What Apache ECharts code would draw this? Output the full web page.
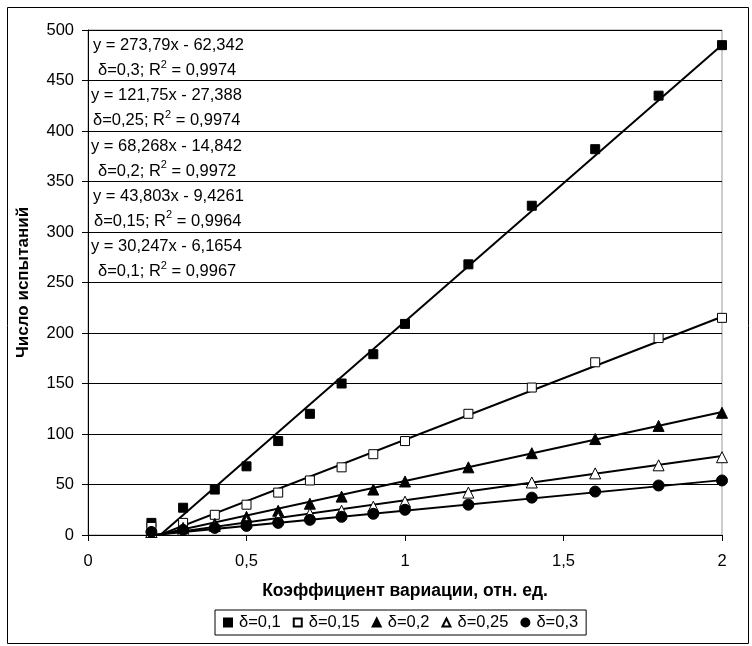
<!DOCTYPE html>
<html><head><meta charset="utf-8">
<script src="https://cdn.jsdelivr.net/npm/echarts@6/dist/echarts.min.js"></script>
<style>html,body{margin:0;padding:0;background:#fff}#c{width:752px;height:646px}</style>
</head><body><div id="c"></div>
<script>
const xValues = [0.2,0.3,0.4,0.5,0.6,0.7,0.8,0.9,1.0,1.2,1.4,1.6,1.8,2.0];
const seriesNames = ['δ=0,1','δ=0,15','δ=0,2','δ=0,25','δ=0,3'];
const d01  = [12,27,45,68,93,120,150,179,209,268,326,382,435,485];
const d015 = [8,12,20,30,42,54,67,80,93,120,146,171,195,215];
const d02  = [3,7,11,18,24,31,38,45,53,67,81,95,108,121];
const d025 = [3,5,9,13,17,21,24,28,33,42,52,61,69,77];
const d03  = [3,5,7,9,12,15,18,21,25,30,37,43,49,54];
const trendSlopes = [273.79,121.75,68.268,43.803,30.247];
const trendIntercepts = [-62.342,-27.388,-14.842,-9.4261,-6.1654];
const eqLines = ['y = 273,79x - 62,342','y = 121,75x - 27,388','y = 68,268x - 14,842','y = 43,803x - 9,4261','y = 30,247x - 6,1654'];
const r2Prefix = ['δ=0,3; R','δ=0,25; R','δ=0,2; R','δ=0,15; R','δ=0,1; R'];
const r2Values = ['0,9974','0,9974','0,9972','0,9964','0,9967'];
const yTicks = [0,50,100,150,200,250,300,350,400,450,500];
const xTicks = [0,0.5,1,1.5,2];

const allData = [d01,d015,d02,d025,d03];
const symbols = ['rect','rect','triangle','triangle','circle'];
const sizes = [9,9,11,11,11];
const fills = ['#000','#fff','#000','#fff','#000'];
const FONT = 'Liberation Sans, Arial, sans-serif';
const FS = 16.5;

const chart = echarts.init(document.getElementById('c'));
const series = [];
allData.forEach((arr,i)=>{
  series.push({
    name: seriesNames[i], type:'scatter', symbol:symbols[i], symbolSize:sizes[i],
    data: xValues.map((x,j)=>[x,arr[j]]),
    itemStyle:{color:fills[i], borderColor:'#000', borderWidth:1, opacity:1},
    z:3
  });
});
trendSlopes.forEach((a,i)=>{
  const b = trendIntercepts[i];
  const x0 = xValues[0], x1 = xValues[xValues.length-1];
  series.push({
    type:'line', name:'trend'+i, data:[[x0,a*x0+b],[x1,a*x1+b]],
    symbol:'none', lineStyle:{color:'#000', width:2}, clip:true, silent:true, z:2
  });
});

const graphic = [{
  type:'rect', left:5, top:5, shape:{width:741, height:636},
  style:{fill:'none', stroke:'#000', lineWidth:1}, z:-1, silent:true
}];
const eqLeft = [93,91,91,93,91];
const r2Left = [98,93,98,94,98];
eqLines.forEach((t,i)=>{
  graphic.push({type:'text', left:eqLeft[i], top:37+i*50.3,
    style:{text:t, font:FS+'px '+FONT, fill:'#000'}});
  graphic.push({type:'text', left:r2Left[i], top:59+i*50.3,
    style:{text:'{n|'+r2Prefix[i]+'}{s|2}{n| = '+r2Values[i]+'}', fill:'#000',
      rich:{n:{fontSize:FS, fontFamily:FONT, verticalAlign:'bottom', lineHeight:20},
            s:{fontSize:11, fontFamily:FONT, verticalAlign:'top', lineHeight:20}}}});
});

const fmt = v => String(v).replace('.',',');
chart.setOption({
  animation:false,
  backgroundColor:'#fff',
  grid:{left:88, right:30, top:30, bottom:111, show:true, borderColor:'#999', borderWidth:1},
  xAxis:{type:'value', min:xTicks[0], max:xTicks[xTicks.length-1], interval:0.5,
    name:'Коэффициент вариации, отн. ед.', nameLocation:'middle', nameGap:47,
    nameTextStyle:{fontFamily:FONT, fontSize:17.5, fontWeight:'bold', color:'#000'},
    axisLine:{onZero:false, lineStyle:{color:'#000', width:1}},
    axisTick:{show:true, inside:false, length:6, lineStyle:{color:'#000'}},
    axisLabel:{fontFamily:FONT, fontSize:FS, color:'#000', margin:18, formatter:fmt},
    splitLine:{show:false}},
  yAxis:{type:'value', min:yTicks[0], max:yTicks[yTicks.length-1], interval:50,
    name:'Число испытаний', nameLocation:'middle', nameGap:56,
    nameTextStyle:{fontFamily:FONT, fontSize:17, fontWeight:'bold', color:'#000'},
    axisLine:{show:true, lineStyle:{color:'#000', width:1}},
    axisTick:{show:true, inside:false, length:6, lineStyle:{color:'#000'}},
    axisLabel:{fontFamily:FONT, fontSize:FS, color:'#000', margin:14},
    splitLine:{show:true, lineStyle:{color:'#000', width:1}}},
  legend:{data:seriesNames, left:215, top:610, itemWidth:8, itemHeight:8, itemGap:12,
    borderColor:'#000', borderWidth:1, padding:[4,8,4,8], borderRadius:0,
    textStyle:{fontFamily:FONT, fontSize:FS, color:'#000', padding:[0,0,0,2]}},
  graphic: graphic,
  series: series
});
</script></body></html>
